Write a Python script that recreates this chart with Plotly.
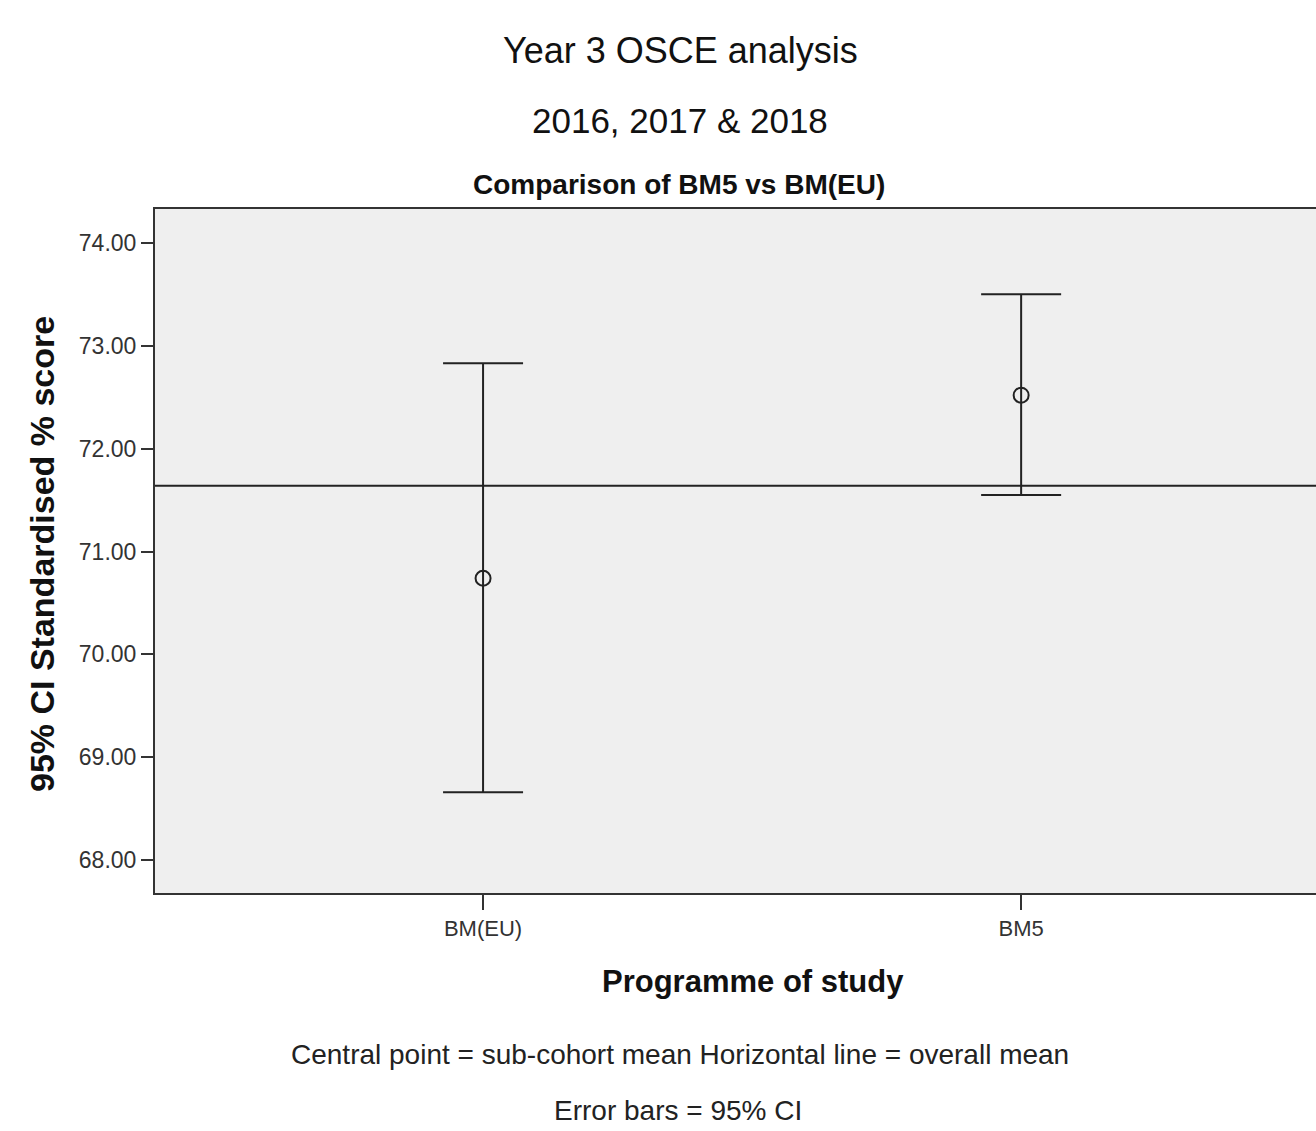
import plotly.graph_objects as go

# ---- data ----
programmes = ["BM(EU)", "BM5"]
x_pos = [0, 1]
means = [70.74, 72.52]
ci_upper = [72.83, 73.50]
ci_lower = [68.66, 71.55]
overall_mean = 71.64
y_ticks = [68, 69, 70, 71, 72, 73, 74]
y_tick_labels = ["68.00", "69.00", "70.00", "71.00", "72.00", "73.00", "74.00"]

W, H = 1316, 1131
L, R, T, B = 155, 0, 209, 238
plot_h = H - T - B
plot_w = W - L - R

def py(pix):  # pixel y -> paper y
    return (H - B - pix) / plot_h

def px(pix):  # pixel x -> paper x
    return (pix - L) / plot_w

err_plus = [u - m for u, m in zip(ci_upper, means)]
err_minus = [m - l for m, l in zip(means, ci_lower)]

FONT = "Liberation Sans, Arial, sans-serif"
INK = "#222222"

fig = go.Figure()
fig.add_trace(go.Scatter(
    x=x_pos, y=means, mode="markers",
    marker=dict(symbol="circle-open", size=15, color=INK, line=dict(width=2, color=INK)),
    error_y=dict(type="data", symmetric=False, array=err_plus, arrayminus=err_minus,
                 color=INK, thickness=2, width=40),
    showlegend=False, hoverinfo="skip",
))

fig.add_shape(type="line", xref="paper", x0=0, x1=1, yref="y", y0=overall_mean, y1=overall_mean,
              line=dict(color=INK, width=2))

fig.update_layout(
    width=W, height=H,
    margin=dict(l=L, r=R, t=T, b=B, pad=0),
    paper_bgcolor="white",
    plot_bgcolor="#efefef",
    font=dict(family=FONT, color="#333333"),
    xaxis=dict(
        range=[-0.6097, 1.548], tickmode="array", tickvals=x_pos, ticktext=programmes,
        showgrid=False, zeroline=False, showline=True, linecolor="#333333", linewidth=2,
        mirror=True, ticks="outside", ticklen=15, tickwidth=1.5, tickcolor="#333333",
        tickfont=dict(size=22, color="#333333", family=FONT),
    ),
    yaxis=dict(
        range=[67.68, 74.33], tickmode="array", tickvals=y_ticks, ticktext=y_tick_labels,
        showgrid=False, zeroline=False, showline=True, linecolor="#333333", linewidth=2,
        ticks="outside", ticklen=12, tickwidth=2, tickcolor="#333333",
        tickfont=dict(size=23, color="#333333", family=FONT),
    ),
)

ann = [
    dict(text="Year 3 OSCE analysis", x=px(680), y=py(50), size=36, color="#111111"),
    dict(text="2016, 2017 &amp; 2018", x=px(680), y=py(120), size=35, color="#111111"),
    dict(text="<b>Comparison of BM5 vs BM(EU)</b>", x=px(679), y=py(184), size=28, color="#111111"),
    dict(text="<b>Programme of study</b>", x=px(753), y=py(981), size=31, color="#111111"),
    dict(text="Central point = sub-cohort mean Horizontal line = overall mean", x=px(680), y=py(1054),
         size=28, color="#222222"),
    dict(text="Error bars = 95% CI", x=px(678), y=py(1110), size=28, color="#222222"),
]
for a in ann:
    fig.add_annotation(text=a["text"], xref="paper", yref="paper", x=a["x"], y=a["y"],
                       xanchor="center", yanchor="middle", showarrow=False,
                       font=dict(size=a["size"], color=a["color"], family=FONT))

fig.add_annotation(text="<b>95% CI Standardised % score</b>", xref="paper", yref="paper",
                   x=px(42), y=py(554), xanchor="center", yanchor="middle", textangle=-90,
                   showarrow=False, font=dict(size=34, color="#111111", family=FONT))

fig.write_html(
    "out.html",
    config={"displayModeBar": False},
    post_script="document.body.style.margin='0';document.body.style.padding='0';document.body.style.overflow='hidden';",
)
